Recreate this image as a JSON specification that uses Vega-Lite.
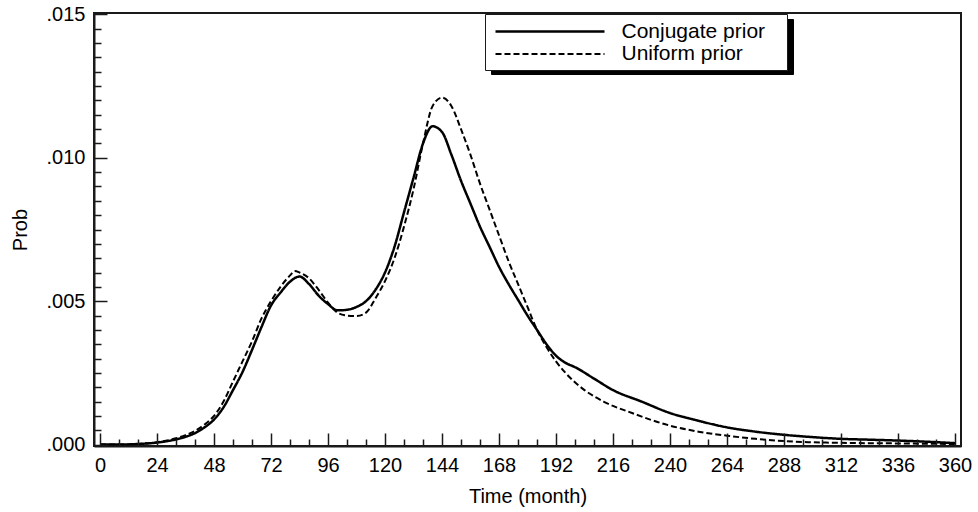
{
  "$schema": "https://vega.github.io/schema/vega-lite/v6.json",
  "width": 867,
  "height": 433,
  "autosize": {"type": "none"},
  "padding": {"left": 94, "top": 13, "right": 17, "bottom": 66},
  "config": {
    "view": {"stroke": "#1a1a1a", "strokeWidth": 2},
    "font": "Liberation Sans",
    "axis": {"grid": false, "domainColor": "#1a1a1a", "domainWidth": 2, "tickColor": "#1a1a1a", "tickWidth": 1.5, "labelColor": "#000", "titleColor": "#000", "labelFontSize": 20, "titleFontSize": 20, "titleFontWeight": "normal", "labelFont": "Liberation Sans", "titleFont": "Liberation Sans"},
    "legend": {"labelFont": "Liberation Sans", "titleFont": "Liberation Sans"}
  },
  "data": {"values": [
    {"month": 0, "prob": 0.0, "prior": "Conjugate prior"},
    {"month": 8, "prob": 0.0, "prior": "Conjugate prior"},
    {"month": 16, "prob": 0.00002, "prior": "Conjugate prior"},
    {"month": 24, "prob": 0.00007, "prior": "Conjugate prior"},
    {"month": 32, "prob": 0.00018, "prior": "Conjugate prior"},
    {"month": 36, "prob": 0.00027, "prior": "Conjugate prior"},
    {"month": 40, "prob": 0.0004, "prior": "Conjugate prior"},
    {"month": 44, "prob": 0.0006, "prior": "Conjugate prior"},
    {"month": 48, "prob": 0.00087, "prior": "Conjugate prior"},
    {"month": 52, "prob": 0.0013, "prior": "Conjugate prior"},
    {"month": 56, "prob": 0.0019, "prior": "Conjugate prior"},
    {"month": 60, "prob": 0.00253, "prior": "Conjugate prior"},
    {"month": 64, "prob": 0.0033, "prior": "Conjugate prior"},
    {"month": 68, "prob": 0.0041, "prior": "Conjugate prior"},
    {"month": 72, "prob": 0.00485, "prior": "Conjugate prior"},
    {"month": 76, "prob": 0.0053, "prior": "Conjugate prior"},
    {"month": 80, "prob": 0.00568, "prior": "Conjugate prior"},
    {"month": 84, "prob": 0.00586, "prior": "Conjugate prior"},
    {"month": 88, "prob": 0.0056, "prior": "Conjugate prior"},
    {"month": 92, "prob": 0.0052, "prior": "Conjugate prior"},
    {"month": 96, "prob": 0.0049, "prior": "Conjugate prior"},
    {"month": 100, "prob": 0.00468, "prior": "Conjugate prior"},
    {"month": 104, "prob": 0.0047, "prior": "Conjugate prior"},
    {"month": 108, "prob": 0.0048, "prior": "Conjugate prior"},
    {"month": 112, "prob": 0.005, "prior": "Conjugate prior"},
    {"month": 116, "prob": 0.0054, "prior": "Conjugate prior"},
    {"month": 120, "prob": 0.006, "prior": "Conjugate prior"},
    {"month": 124, "prob": 0.0069, "prior": "Conjugate prior"},
    {"month": 128, "prob": 0.0081, "prior": "Conjugate prior"},
    {"month": 132, "prob": 0.0093, "prior": "Conjugate prior"},
    {"month": 136, "prob": 0.0105, "prior": "Conjugate prior"},
    {"month": 140, "prob": 0.0111, "prior": "Conjugate prior"},
    {"month": 144, "prob": 0.0109, "prior": "Conjugate prior"},
    {"month": 148, "prob": 0.0101, "prior": "Conjugate prior"},
    {"month": 152, "prob": 0.0092, "prior": "Conjugate prior"},
    {"month": 156, "prob": 0.0084, "prior": "Conjugate prior"},
    {"month": 160, "prob": 0.0076, "prior": "Conjugate prior"},
    {"month": 164, "prob": 0.0069, "prior": "Conjugate prior"},
    {"month": 168, "prob": 0.0062, "prior": "Conjugate prior"},
    {"month": 172, "prob": 0.0056, "prior": "Conjugate prior"},
    {"month": 176, "prob": 0.00505, "prior": "Conjugate prior"},
    {"month": 180, "prob": 0.0045, "prior": "Conjugate prior"},
    {"month": 184, "prob": 0.004, "prior": "Conjugate prior"},
    {"month": 188, "prob": 0.0035, "prior": "Conjugate prior"},
    {"month": 192, "prob": 0.0031, "prior": "Conjugate prior"},
    {"month": 196, "prob": 0.00285, "prior": "Conjugate prior"},
    {"month": 200, "prob": 0.0027, "prior": "Conjugate prior"},
    {"month": 208, "prob": 0.0023, "prior": "Conjugate prior"},
    {"month": 216, "prob": 0.0019, "prior": "Conjugate prior"},
    {"month": 228, "prob": 0.0015, "prior": "Conjugate prior"},
    {"month": 240, "prob": 0.0011, "prior": "Conjugate prior"},
    {"month": 252, "prob": 0.00083, "prior": "Conjugate prior"},
    {"month": 264, "prob": 0.0006, "prior": "Conjugate prior"},
    {"month": 276, "prob": 0.00045, "prior": "Conjugate prior"},
    {"month": 288, "prob": 0.00034, "prior": "Conjugate prior"},
    {"month": 300, "prob": 0.00026, "prior": "Conjugate prior"},
    {"month": 312, "prob": 0.0002, "prior": "Conjugate prior"},
    {"month": 324, "prob": 0.00017, "prior": "Conjugate prior"},
    {"month": 336, "prob": 0.00014, "prior": "Conjugate prior"},
    {"month": 348, "prob": 0.0001, "prior": "Conjugate prior"},
    {"month": 360, "prob": 0.00005, "prior": "Conjugate prior"},
    {"month": 0, "prob": 0.0, "prior": "Uniform prior"},
    {"month": 8, "prob": 0.0, "prior": "Uniform prior"},
    {"month": 16, "prob": 0.00002, "prior": "Uniform prior"},
    {"month": 24, "prob": 0.00008, "prior": "Uniform prior"},
    {"month": 32, "prob": 0.00022, "prior": "Uniform prior"},
    {"month": 36, "prob": 0.00033, "prior": "Uniform prior"},
    {"month": 40, "prob": 0.00048, "prior": "Uniform prior"},
    {"month": 44, "prob": 0.0007, "prior": "Uniform prior"},
    {"month": 48, "prob": 0.001, "prior": "Uniform prior"},
    {"month": 52, "prob": 0.0015, "prior": "Uniform prior"},
    {"month": 56, "prob": 0.0022, "prior": "Uniform prior"},
    {"month": 60, "prob": 0.0029, "prior": "Uniform prior"},
    {"month": 64, "prob": 0.0036, "prior": "Uniform prior"},
    {"month": 68, "prob": 0.0044, "prior": "Uniform prior"},
    {"month": 72, "prob": 0.005, "prior": "Uniform prior"},
    {"month": 76, "prob": 0.0055, "prior": "Uniform prior"},
    {"month": 80, "prob": 0.0059, "prior": "Uniform prior"},
    {"month": 82, "prob": 0.00605, "prior": "Uniform prior"},
    {"month": 84, "prob": 0.006, "prior": "Uniform prior"},
    {"month": 88, "prob": 0.0058, "prior": "Uniform prior"},
    {"month": 92, "prob": 0.0054, "prior": "Uniform prior"},
    {"month": 96, "prob": 0.00495, "prior": "Uniform prior"},
    {"month": 100, "prob": 0.0046, "prior": "Uniform prior"},
    {"month": 104, "prob": 0.0045, "prior": "Uniform prior"},
    {"month": 108, "prob": 0.00448, "prior": "Uniform prior"},
    {"month": 112, "prob": 0.0046, "prior": "Uniform prior"},
    {"month": 116, "prob": 0.0051, "prior": "Uniform prior"},
    {"month": 120, "prob": 0.0057, "prior": "Uniform prior"},
    {"month": 124, "prob": 0.0065, "prior": "Uniform prior"},
    {"month": 128, "prob": 0.0076, "prior": "Uniform prior"},
    {"month": 132, "prob": 0.0089, "prior": "Uniform prior"},
    {"month": 136, "prob": 0.0105, "prior": "Uniform prior"},
    {"month": 140, "prob": 0.0118, "prior": "Uniform prior"},
    {"month": 144, "prob": 0.0121, "prior": "Uniform prior"},
    {"month": 148, "prob": 0.0118, "prior": "Uniform prior"},
    {"month": 152, "prob": 0.011, "prior": "Uniform prior"},
    {"month": 156, "prob": 0.0101, "prior": "Uniform prior"},
    {"month": 160, "prob": 0.0091, "prior": "Uniform prior"},
    {"month": 164, "prob": 0.0082, "prior": "Uniform prior"},
    {"month": 168, "prob": 0.0073, "prior": "Uniform prior"},
    {"month": 172, "prob": 0.0064, "prior": "Uniform prior"},
    {"month": 176, "prob": 0.0056, "prior": "Uniform prior"},
    {"month": 180, "prob": 0.0048, "prior": "Uniform prior"},
    {"month": 184, "prob": 0.004, "prior": "Uniform prior"},
    {"month": 188, "prob": 0.0034, "prior": "Uniform prior"},
    {"month": 192, "prob": 0.0029, "prior": "Uniform prior"},
    {"month": 196, "prob": 0.0025, "prior": "Uniform prior"},
    {"month": 204, "prob": 0.0019, "prior": "Uniform prior"},
    {"month": 212, "prob": 0.0015, "prior": "Uniform prior"},
    {"month": 224, "prob": 0.0011, "prior": "Uniform prior"},
    {"month": 240, "prob": 0.00066, "prior": "Uniform prior"},
    {"month": 252, "prob": 0.00045, "prior": "Uniform prior"},
    {"month": 264, "prob": 0.00031, "prior": "Uniform prior"},
    {"month": 276, "prob": 0.0002, "prior": "Uniform prior"},
    {"month": 288, "prob": 0.00012, "prior": "Uniform prior"},
    {"month": 300, "prob": 0.00008, "prior": "Uniform prior"},
    {"month": 312, "prob": 0.00006, "prior": "Uniform prior"},
    {"month": 336, "prob": 0.00004, "prior": "Uniform prior"},
    {"month": 360, "prob": 0.00002, "prior": "Uniform prior"}
  ]},
  "resolve": {"axis": {"x": "independent", "y": "independent"}},
  "layer": [
    {
      "mark": {"type": "line", "opacity": 0},
      "encoding": {
        "x": {
          "field": "month", "type": "quantitative",
          "scale": {"domain": [-2.53, 362.53], "nice": false, "zero": false},
          "axis": {
            "orient": "bottom", "title": null, "labels": false, "domain": false, "zindex": 5,
            "values": [8,16,32,40,56,64,80,88,104,112,128,136,152,160,176,184,200,208,224,232,248,256,272,280,296,304,320,328,344,352],
            "tickSize": -7, "tickColor": "#1a1a1a", "tickWidth": 1.5
          }
        },
        "y": {
          "field": "prob", "type": "quantitative",
          "scale": {"domain": [-0.00005, 0.01505], "nice": false, "zero": false},
          "axis": {
            "orient": "left", "title": null, "labels": false, "domain": false, "zindex": 5,
            "values": [0.0005,0.001,0.0015,0.002,0.0025,0.003,0.0035,0.004,0.0045,0.0055,0.006,0.0065,0.007,0.0075,0.008,0.0085,0.009,0.0095,0.0105,0.011,0.0115,0.012,0.0125,0.013,0.0135,0.014,0.0145],
            "tickSize": -7, "tickColor": "#1a1a1a", "tickWidth": 1.5
          }
        },
        "detail": {"field": "prior", "type": "nominal"}
      }
    },
    {
      "mark": {"type": "line", "interpolate": "monotone"},
      "encoding": {
        "x": {
          "field": "month", "type": "quantitative",
          "scale": {"domain": [-2.53, 362.53], "nice": false, "zero": false},
          "axis": {
            "orient": "bottom", "title": "Time (month)", "zindex": 5,
            "values": [0,24,48,72,96,120,144,168,192,216,240,264,288,312,336,360],
            "tickSize": -13, "tickColor": "#1a1a1a", "tickWidth": 1.5,
            "labelPadding": 22,
            "labelFlush": false,
            "labelOverlap": false,
            "titlePadding": 11
          }
        },
        "y": {
          "field": "prob", "type": "quantitative",
          "scale": {"domain": [-0.00005, 0.01505], "nice": false, "zero": false},
          "axis": {
            "orient": "left", "title": "Prob", "zindex": 5,
            "values": [0, 0.005, 0.01, 0.015],
            "tickSize": -13, "tickColor": "#1a1a1a", "tickWidth": 1.5,
            "labelExpr": "substring(format(datum.value, '.3f'), 1)",
            "labelPadding": 22,
            "labelFlush": false,
            "labelOverlap": false,
            "titlePadding": 16
          }
        },
        "strokeDash": {
          "field": "prior", "type": "nominal",
          "scale": {"domain": ["Conjugate prior", "Uniform prior"], "range": [[1, 0], [6, 3]]},
          "legend": {
            "title": "\u00a0", "titleOrient": "right", "titlePadding": 16, "titleFontSize": 20,
            "orient": "none", "legendX": 391, "legendY": 1,
            "fillColor": "#ffffff", "strokeColor": "#1a1a1a", "padding": 6,
            "symbolType": "M-5.45,0H5.45", "symbolSize": 400, "symbolOffset": 47.5, "symbolStrokeWidth": 2, "symbolStrokeColor": "#000000",
            "labelFontSize": 21, "labelColor": "#000000", "labelOffset": 60, "rowPadding": 1
          }
        },
        "color": {
          "field": "prior", "type": "nominal",
          "scale": {"range": ["#000000", "#000000"]},
          "legend": {
            "title": "\u00a0", "titleOrient": "right", "titlePadding": 159.6, "titleFontSize": 20,
            "orient": "none", "legendX": 397, "legendY": 6,
            "fillColor": "#000000", "strokeColor": "#000000", "padding": 6,
            "symbolType": "M-5.45,0H5.45", "symbolSize": 400, "symbolOffset": 47.5, "symbolStrokeWidth": 2, "symbolStrokeColor": "#000000",
            "labelFontSize": 21, "labelColor": "#000000", "labelOffset": 60, "rowPadding": 1,
            "labelExpr": "''"
          }
        },
        "strokeWidth": {
          "field": "prior", "type": "nominal",
          "scale": {"domain": ["Conjugate prior", "Uniform prior"], "range": [2.5, 2]},
          "legend": null
        }
      }
    }
  ]
}
